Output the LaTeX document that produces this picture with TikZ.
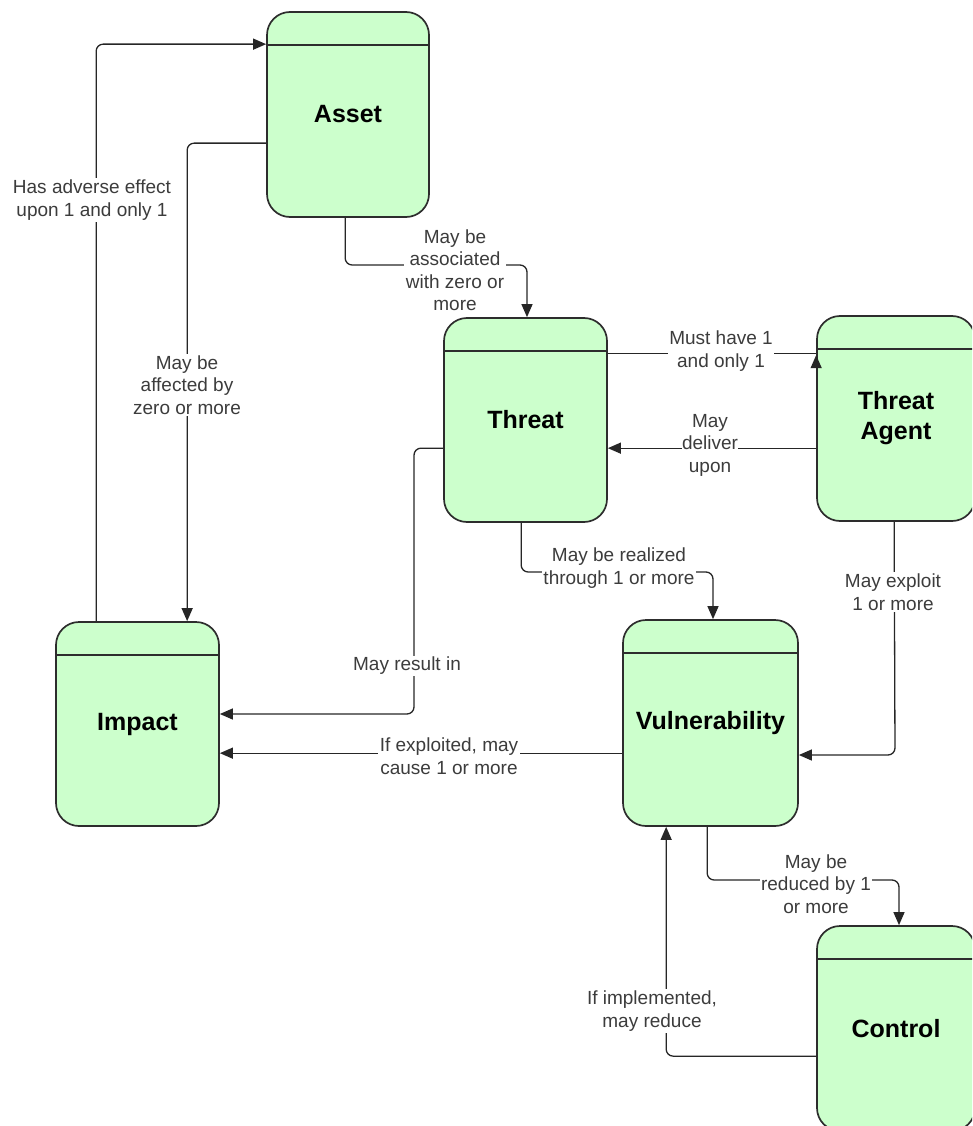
\documentclass[tikz,border=0pt]{standalone}
\usepackage{fontspec}
\setmainfont{Liberation Sans}
\usetikzlibrary{arrows.meta,calc}
\definecolor{boxfill}{RGB}{204,255,204}
\definecolor{boxline}{RGB}{45,45,45}
\definecolor{labelgray}{RGB}{60,60,60}
\begin{document}
\begin{tikzpicture}[x=1pt,y=-1pt,
  entity/.style={draw=boxline, line width=1.7pt, fill=boxfill, rounded corners=23pt,
    inner sep=0pt, align=center, font=\fontsize{25}{30}\selectfont\bfseries,
    path picture={\draw[boxline, line width=1.4pt]
      ([yshift=-33pt]path picture bounding box.north west) --
      ([yshift=-33pt]path picture bounding box.north east);}},
  line/.style={draw=black!85, line width=1.3pt, rounded corners=7pt},
  conn/.style={line, -{Triangle[length=13pt,width=11pt]}},
  lbl/.style={fill=white, inner sep=1.5pt, align=center, text=labelgray,
    font=\fontsize{19}{22.5}\selectfont}
]
\useasboundingbox (0,0) rectangle (972,1126);
\clip (0,0) rectangle (972,1126);

% entities
\node[entity, minimum width=162pt, minimum height=205pt] (asset) at (348,114.5) {Asset};
\node[entity, minimum width=163pt, minimum height=204pt] (threat) at (525.5,420) {Threat};
\node[entity, minimum width=158pt, minimum height=205pt] (agent) at (896,418.5) {Threat\\Agent};
\node[entity, minimum width=163pt, minimum height=204pt] (impact) at (137.5,724) {Impact};
\node[entity, minimum width=175pt, minimum height=206pt] (vuln) at (710.5,723) {Vulnerability};
\node[entity, minimum width=158pt, minimum height=205pt] (control) at (896,1028.5) {Control};

% helper coordinates
\coordinate (k1) at (527,265);
\coordinate (k3) at (414,714);
\coordinate (k4) at (713,572);
\coordinate (k5) at (895,755);
\coordinate (k6) at (899,880);

% connectors
\draw[conn] ([xshift=41pt]impact.north west) |- ([yshift=-33pt]asset.north west);
\draw[conn] ([yshift=-132pt]asset.north west) -| ([xshift=132pt]impact.north west);
\draw[conn] ([xshift=79pt]asset.south west) |- (k1) -- (k1 |- threat.north);
\draw[line] ([yshift=-36pt]threat.north east) -- ([yshift=-38pt]agent.north west);
\draw[conn] ([yshift=-52pt]agent.north west) -- ([yshift=-40pt]agent.north west);
\draw[conn] ([yshift=-133pt]agent.north west) -- ([yshift=-133pt]agent.north west -| threat.east);
\draw[conn] ([yshift=-131pt]threat.north west) -| (k3) -- (k3 -| impact.east);
\draw[conn] ([xshift=78pt]threat.south west) |- (k4) -- (k4 |- vuln.north);
\draw[conn] ([xshift=78pt]agent.south west) -- (k5) -- (k5 -| vuln.east);
\draw[conn] ([yshift=-134pt]vuln.north west) -- ([yshift=-134pt]vuln.north west -| impact.east);
\draw[conn] ([xshift=85pt]vuln.south west) |- (k6) -- (k6 |- control.north);
\draw[conn] ([yshift=-131pt]control.north west) -| ([xshift=44pt]vuln.south west);

% labels
\node[lbl] (l1) at (92,200) {Has adverse effect\\upon 1 and only 1};
\node[lbl] (l2) at (187,385) {May be\\affected by\\zero or more};
\node[lbl] (l3) at (455,270) {May be\\associated\\with zero or\\more};
\node[lbl] (l4) at (721,351) {Must have 1\\and only 1};
\node[lbl, inner sep=0.5pt] (l5) at (710,445) {May\\deliver\\upon};
\node[lbl] (l6) at (407,666) {May result in};
\node[lbl] (l7) at (619,568) {May be realized\\through 1 or more};
\node[lbl] (l8) at (893,592) {May exploit\\1 or more};
\node[lbl] (l9) at (449,756) {If exploited, may\\cause 1 or more};
\node[lbl] (l10) at (816,884) {May be\\reduced by 1\\or more};
\node[lbl] (l11) at (652,1011) {If implemented,\\may reduce};
\end{tikzpicture}
\end{document}
